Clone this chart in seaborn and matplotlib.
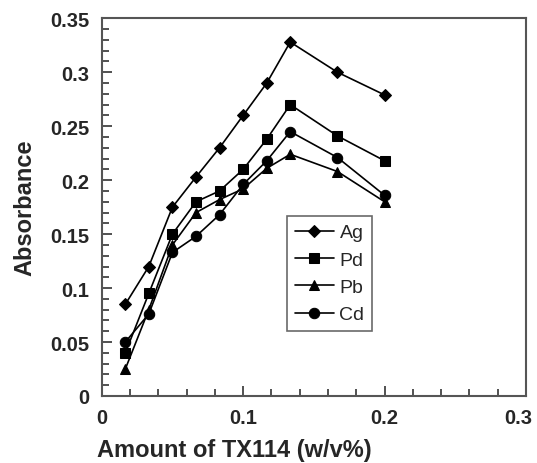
import pandas as pd
import matplotlib.pyplot as plt
from matplotlib.ticker import MultipleLocator
from matplotlib.transforms import ScaledTranslation
import seaborn as sns

# amount of TX114 (w/v%)
tx114 = [0.0167, 0.0333, 0.05, 0.0667, 0.0833, 0.1, 0.1167, 0.1333, 0.1667, 0.2]

# absorbance per metal
ag = [0.085, 0.120, 0.175, 0.203, 0.230, 0.260, 0.290, 0.328, 0.300, 0.279]
pd_ = [0.040, 0.095, 0.150, 0.180, 0.190, 0.210, 0.238, 0.270, 0.241, 0.218]
pb = [0.025, 0.080, 0.140, 0.170, 0.182, 0.192, 0.211, 0.224, 0.208, 0.180]
cd = [0.050, 0.076, 0.133, 0.148, 0.168, 0.196, 0.218, 0.245, 0.221, 0.186]

metals = ['Ag', 'Pd', 'Pb', 'Cd']

x_ticks = [0, 0.1, 0.2, 0.3]
x_labels = ['0', '0.1', '0.2', '0.3']
y_ticks = [0, 0.05, 0.1, 0.15, 0.2, 0.25, 0.3, 0.35]
y_labels = ['0', '0.05', '0.1', '0.15', '0.2', '0.25', '0.3', '0.35']

df = pd.DataFrame({
    'x': tx114 * 4,
    'y': ag + pd_ + pb + cd,
    'metal': [m for m in metals for _ in tx114],
})

sns.set_style("ticks")
plt.rcParams['font.family'] = ['Liberation Sans', 'DejaVu Sans']

fig = plt.figure(figsize=(5.37, 4.64), dpi=100)
ax = fig.add_axes([0.1894, 0.1444, 0.7901, 0.8140])

markers = {'Ag': 'D', 'Pd': 's', 'Pb': '^', 'Cd': 'o'}
sizes = {'Ag': 6, 'Pd': 7, 'Pb': 7.5, 'Cd': 7.5}
for m in metals:
    sub = df[df['metal'] == m]
    sns.lineplot(data=sub, x='x', y='y', ax=ax, color='black', lw=1.2,
                 marker=markers[m], markersize=sizes[m], markeredgecolor='black',
                 label=m, sort=False)

ax.set_xticks(x_ticks, x_labels, fontweight='bold')
ax.set_yticks(y_ticks, y_labels, fontweight='bold')
ax.xaxis.set_minor_locator(MultipleLocator(0.02))
ax.yaxis.set_minor_locator(MultipleLocator(0.01))
ax.set_xlim(0, 0.3)
ax.set_ylim(0, 0.35)

for s in ['top', 'right', 'left', 'bottom']:
    ax.spines[s].set_visible(True)
    ax.spines[s].set_color('#555555')
    ax.spines[s].set_linewidth(1.5)
    ax.spines[s].set_zorder(5)
ax.tick_params(which='both', direction='in', color='#333333', width=1.2,
               top=False, right=False)
ax.tick_params(which='major', length=7, labelsize=14.5, pad=9)
ax.tick_params(which='minor', length=5)
ax.tick_params(axis='x', which='major', pad=9)

# last x label sits at the figure edge, nudge it in
last = ax.get_xticklabels()[-1]
last.set_transform(last.get_transform() + ScaledTranslation(-8 / 100, 0, fig.dpi_scale_trans))

ax.set_xlabel('Amount of TX114 (w/v%)', fontsize=17, fontweight='bold')
ax.xaxis.set_label_coords(0.312, -0.11)
ax.set_ylabel('Absorbance', fontsize=17, fontweight='bold', labelpad=10)

leg = ax.legend(loc='upper left', bbox_to_anchor=(0.4367, 0.4766), fontsize=14,
                frameon=True, fancybox=False, handlelength=2.0, borderpad=0.4,
                labelspacing=0.5, handletextpad=0.3, borderaxespad=0)
leg.get_frame().set_edgecolor('#444444')
leg.get_frame().set_linewidth(1.2)

fig.savefig('out.png', dpi=100)
